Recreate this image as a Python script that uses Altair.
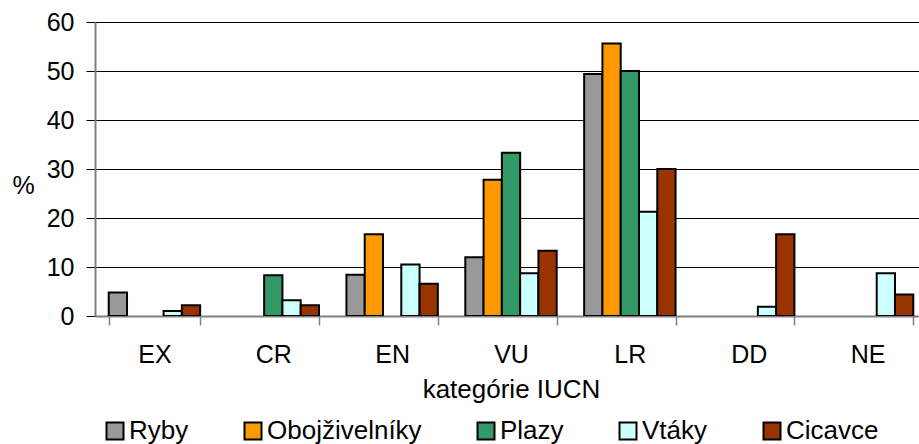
import altair as alt
import pandas as pd

# IUCN threat categories and the share (%) of each vertebrate class in them
categories = ["EX", "CR", "EN", "VU", "LR", "DD", "NE"]
series = ["Ryby", "Obojživelníky", "Plazy", "Vtáky", "Cicavce"]
colors = ["#999999", "#FF9900", "#339966", "#CCFFFF", "#993300"]

ryby = [4.8, 0, 8.4, 12.0, 49.4, 0, 0]
obojzivelniky = [0, 0, 16.7, 27.8, 55.6, 0, 0]
plazy = [0, 8.3, 0, 33.3, 50.0, 0, 0]
vtaky = [1.0, 3.2, 10.5, 8.7, 21.3, 1.9, 8.7]
cicavce = [2.2, 2.2, 6.6, 13.3, 30.0, 16.7, 4.4]

y_ticks = [0, 10, 20, 30, 40, 50, 60]

rows = []
for name, vals in zip(series, [ryby, obojzivelniky, plazy, vtaky, cicavce]):
    for cat, v in zip(categories, vals):
        rows.append({"kategoria": cat, "trieda": name, "hodnota": v})
df = pd.DataFrame(rows)

FONT = "Liberation Sans"

chart = (
    alt.Chart(df)
    .transform_filter("datum.hodnota > 0")
    .mark_bar(stroke="black", strokeWidth=2, clip=True)
    .encode(
        x=alt.X(
            "kategoria:N",
            sort=categories,
            scale=alt.Scale(range=[0, 832], paddingInner=0.231, paddingOuter=0.1155),
            axis=alt.Axis(
                title="kategórie IUCN",
                labelAngle=0,
                tickBand="extent",
                grid=False,
                domainColor="#808080",
                domainWidth=2,
                tickColor="#808080",
                tickWidth=1.5,
                tickSize=9,
                labelFontSize=25,
                labelColor="black",
                labelBaseline="alphabetic",
                labelPadding=37,
                titleFontSize=26,
                titleFontWeight="normal",
                titleColor="black",
                titleBaseline="alphabetic",
                titleY=81,
            ),
        ),
        xOffset=alt.XOffset(
            "trieda:N",
            sort=series,
            scale=alt.Scale(domain=series, paddingInner=0, paddingOuter=0),
        ),
        y=alt.Y(
            "hodnota:Q",
            scale=alt.Scale(domain=[0, 60], nice=False),
            axis=alt.Axis(
                values=y_ticks,
                title="%",
                grid=True,
                gridColor="black",
                gridWidth=1,
                domainColor="#808080",
                domainWidth=2,
                tickColor="black",
                tickSize=9,
                labelFontSize=25,
                labelColor="black",
                labelPadding=12,
                titleFontSize=25,
                titleFontWeight="normal",
                titleColor="black",
                titleAngle=0,
                titleAlign="center",
                titleBaseline="middle",
                titleX=-72,
                titleY=163,
            ),
        ),
        color=alt.Color(
            "trieda:N",
            sort=series,
            scale=alt.Scale(domain=series, range=colors),
            legend=alt.Legend(
                title=None,
                orient="none",
                legendX=7,
                legendY=396,
                direction="horizontal",
                columns=5,
                symbolType="square",
                symbolSize=289,
                symbolStrokeColor="black",
                symbolStrokeWidth=2,
                symbolOpacity=1,
                labelFontSize=26,
                labelColor="black",
                labelOffset=1,
                columnPadding=51,
            ),
        ),
    )
    .properties(
        width=824,
        height=294,
        autosize=alt.AutoSizeParams(type="none"),
        padding={"left": 95, "top": 22, "right": 0, "bottom": 128},
        background="white",
    )
    .configure(font=FONT)
    .configure_view(stroke=None)
)

chart.save("out.html", embed_options={"renderer": "svg", "actions": False})
